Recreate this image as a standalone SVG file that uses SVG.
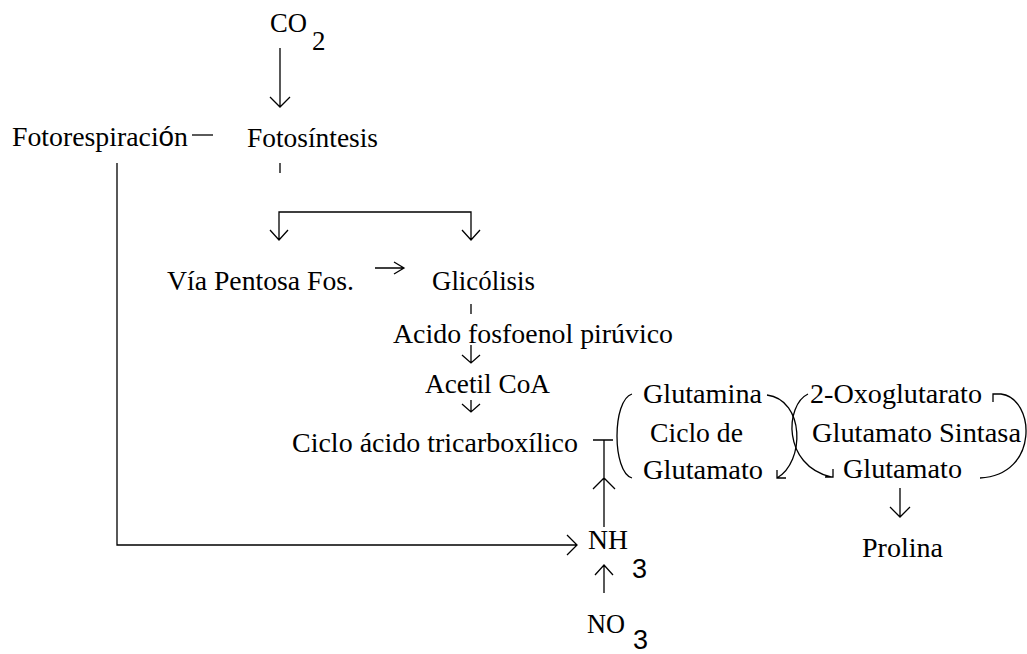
<svg xmlns="http://www.w3.org/2000/svg" width="1027" height="654" viewBox="0 0 1027 654">
<style>
text{font-family:"Liberation Serif","Times New Roman",serif;font-size:27px;fill:#000}
.sans{font-family:"Liberation Sans",Arial,sans-serif}
.c{fill:none;stroke:#000;stroke-width:1.3}
</style>
<rect width="1027" height="654" fill="#fff"/>
<g id="connectors" class="c">
<path d="M280 48V107M270 97L280 107L290 97"/>
<path d="M192 135H213"/>
<path d="M280 163V173"/>
<path d="M117 163V545H577M567 535L577 545L567 555"/>
<path d="M279 240V212H471V240M270 230L279 240L288 230M462 230L471 240L480 230"/>
<path d="M375 268H404M394 262L404 268L394 274"/>
<path d="M471 304V314"/>
<path d="M471 345V363M462 355L471 363L480 355"/>
<path d="M471 400V412M462 404L471 412L480 404"/>
<path d="M593 440H613M604 440V527M593 489L604 478L615 489"/>
<path d="M604 593V565M595 575L604 565L613 575"/>
<path d="M632 394C612 400 612 472 632 478"/>
<path d="M767 395C805 400 805 462 777 478M777 470V478H786"/>
<path d="M808 394C785 405 782 465 831 477M833 469V477H825"/>
<path d="M980 478C1040 475 1035 398 1001 394H993V402"/>
<path d="M900 488V517M890 507L900 517L910 507"/>
</g>
<g id="co2"><text x="270" y="32" textLength="37" lengthAdjust="spacingAndGlyphs">CO</text><text x="312" y="50">2</text></g>
<g id="fotorespiracion"><text x="12" y="146" textLength="176" lengthAdjust="spacingAndGlyphs">Fotorespiraci<tspan class="sans">ó</tspan>n</text></g>
<g id="fotosintesis"><text x="247" y="147" textLength="131" lengthAdjust="spacingAndGlyphs">Fotosíntesis</text></g>
<g id="pentosa"><text x="167" y="290" textLength="187" lengthAdjust="spacingAndGlyphs">Vía Pentosa Fos.</text></g>
<g id="glicolisis"><text x="432" y="290" textLength="103" lengthAdjust="spacingAndGlyphs">Glicólisis</text></g>
<g id="fosfoenol"><text x="393" y="343" textLength="280" lengthAdjust="spacingAndGlyphs">Acido fosfoenol pirúvico</text></g>
<g id="acetil"><text x="425" y="393" textLength="125" lengthAdjust="spacingAndGlyphs">Acetil CoA</text></g>
<g id="tca"><text x="292" y="452" textLength="286" lengthAdjust="spacingAndGlyphs">Ciclo ácido tricarboxílico</text></g>
<g id="ciclo-glutamato">
<text x="643" y="403" textLength="119" lengthAdjust="spacingAndGlyphs">Glutamina</text>
<text x="650" y="442" textLength="93" lengthAdjust="spacingAndGlyphs">Ciclo de</text>
<text x="643" y="479" textLength="120" lengthAdjust="spacingAndGlyphs">Glutamato</text>
</g>
<g id="sintasa">
<text x="810" y="403" textLength="172" lengthAdjust="spacingAndGlyphs">2-Oxoglutarato</text>
<text x="812" y="442" textLength="209" lengthAdjust="spacingAndGlyphs">Glutamato Sintasa</text>
<text x="843" y="478" textLength="119" lengthAdjust="spacingAndGlyphs">Glutamato</text>
</g>
<g id="prolina"><text x="862" y="557" textLength="81" lengthAdjust="spacingAndGlyphs">Prolina</text></g>
<g id="nh3"><text x="588" y="549" textLength="40" lengthAdjust="spacingAndGlyphs">NH</text><text class="sans" x="632" y="578" font-size="21">3</text></g>
<g id="no3"><text x="587" y="633" textLength="38" lengthAdjust="spacingAndGlyphs">NO</text><text class="sans" x="633" y="649" font-size="25">3</text></g>
</svg>
